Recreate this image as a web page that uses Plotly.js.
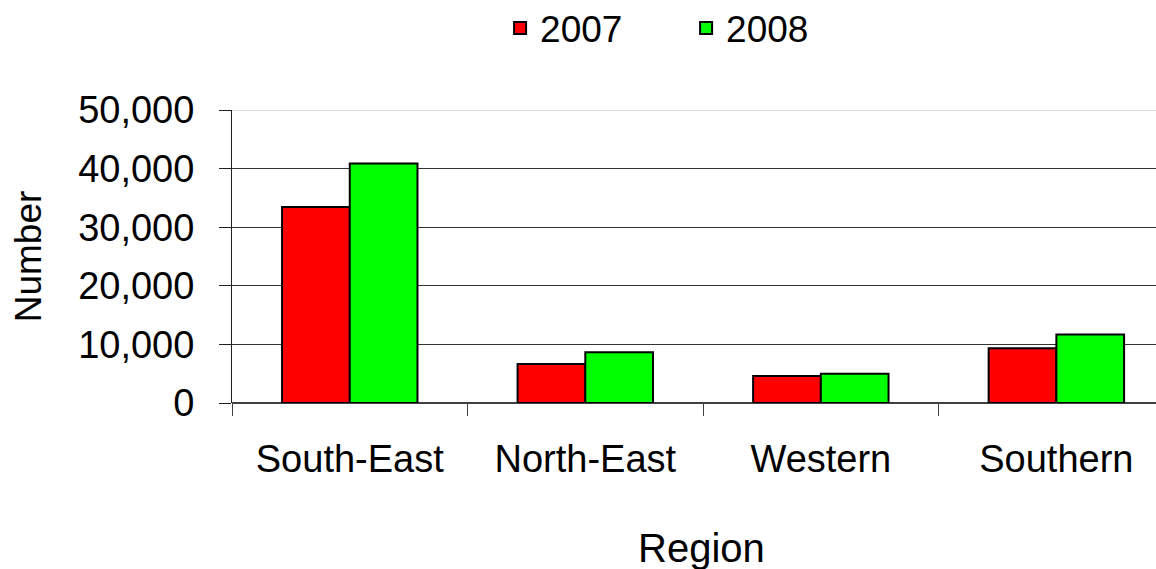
<!DOCTYPE html>
<html>
<head>
<meta charset="utf-8">
<script src="https://cdn.plot.ly/plotly-3.0.1.min.js"></script>
<style>
html,body{margin:0;padding:0;background:#fff;overflow:hidden;}
#chart{width:1156px;height:569px;}
</style>
</head>
<body>
<div id="chart"></div>
<script>
var regions = ["South-East", "North-East", "Western", "Southern"];
var values2007 = [33450, 6650, 4600, 9350];
var values2008 = [40850, 8650, 5000, 11700];
var yTickVals = [0, 10000, 20000, 30000, 40000, 50000];
var yTickText = ["0", "10,000", "20,000", "30,000", "40,000", "50,000"];

var font = "Liberation Sans, Arial, Helvetica, sans-serif";

var traces = [
  {type: "bar", name: "2007", x: regions, y: values2007,
   marker: {color: "#FF0000", line: {color: "#000000", width: 2}}},
  {type: "bar", name: "2008", x: regions, y: values2008,
   marker: {color: "#00FF00", line: {color: "#000000", width: 2}}}
];

var layout = {
  width: 1156, height: 569,
  paper_bgcolor: "#ffffff", plot_bgcolor: "#ffffff",
  margin: {l: 232, r: 0, t: 110, b: 166},
  font: {family: font, color: "#000000"},
  barmode: "group", bargap: 0.425, bargroupgap: 0,
  showlegend: true,
  legend: {orientation: "h", xref: "container", yref: "container",
           x: 0.5935, xanchor: "center", y: 0.95, yanchor: "middle",
           font: {family: font, size: 37, color: "#000"},
           itemwidth: 30, traceorder: "normal", entrywidth: 141},
  xaxis: {
    range: [-0.5, 3.423], type: "category",
    showline: false, showgrid: false, zeroline: false,
    ticks: "outside", tickson: "boundaries", ticklen: 12, tickwidth: 1, tickcolor: "#404040",
    tickfont: {family: font, size: 38, color: "#000"},
    ticklabelstandoff: 30,
    fixedrange: true
  },
  yaxis: {
    range: [0, 50000], tickvals: yTickVals, ticktext: yTickText,
    showline: true, linecolor: "#202020", linewidth: 1,
    showgrid: true, gridcolor: "#333333", gridwidth: 1.3,
    zeroline: true, zerolinecolor: "#404040", zerolinewidth: 1.5,
    ticks: "outside", ticklen: 12, tickwidth: 1, tickcolor: "#202020",
    tickfont: {family: font, size: 38, color: "#000"},
    ticklabelstandoff: 17,
    title: {text: "Number", font: {family: font, size: 37, color: "#000"}, standoff: 25},
    fixedrange: true
  },
  shapes: [
    {type: "line", layer: "above", xref: "paper", yref: "y", x0: 0, x1: 1,
     y0: yTickVals[yTickVals.length - 1], y1: yTickVals[yTickVals.length - 1],
     line: {color: "#cccccc", width: 1.5}}
  ],
  annotations: [
    {text: "Region", xref: "paper", yref: "paper", x: 0.5076, y: -0.495,
     xanchor: "center", yanchor: "middle", showarrow: false,
     font: {family: font, size: 40, color: "#000"}}
  ]
};

Plotly.newPlot("chart", traces, layout, {displayModeBar: false, staticPlot: true});
</script>
</body>
</html>
